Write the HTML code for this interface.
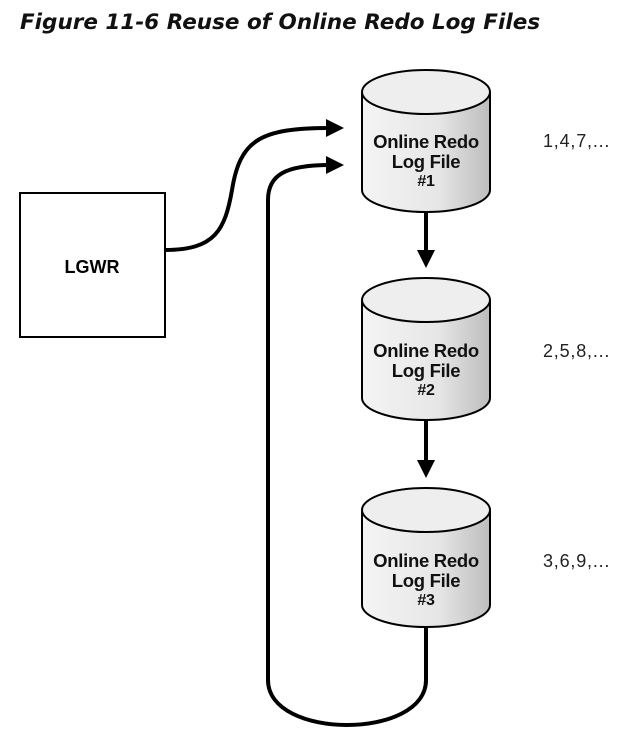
<!DOCTYPE html>
<html><head><style>
body{margin:0;background:#fff;width:634px;height:742px;overflow:hidden;}
.t{position:absolute;left:20px;top:10px;font:italic bold 21.5px "DejaVu Sans","Liberation Sans",sans-serif;color:#111;}
</style></head><body>
<div class="t">Figure 11-6 Reuse of Online Redo Log Files</div>
<svg width="634" height="742" style="position:absolute;left:0;top:0" font-family="Liberation Sans, sans-serif">
<defs>
<linearGradient id="g" x1="0" x2="1"><stop offset="0" stop-color="#f4f4f4"/><stop offset="0.6" stop-color="#e6e6e6"/><stop offset="1" stop-color="#bdbdbd"/></linearGradient>
<marker id="a" markerWidth="18" markerHeight="18" refX="4" refY="9" orient="auto" markerUnits="userSpaceOnUse" viewBox="0 0 18 18"><path d="M0,0 L18,9 L0,18z" fill="#000"/></marker>
</defs>
<rect x="20" y="193" width="145" height="144" fill="#fff" stroke="#000" stroke-width="2"/>
<text x="92" y="273" font-size="18" font-weight="bold" text-anchor="middle">LGWR</text>
<g stroke="#000" stroke-width="2">
<path d="M362,92 V190 A64,22 0 0 0 490,190 V92" fill="url(#g)"/>
<ellipse cx="426" cy="92" rx="64" ry="22" fill="#eee"/>
<path d="M362,300 V398 A64,22 0 0 0 490,398 V300" fill="url(#g)"/>
<ellipse cx="426" cy="300" rx="64" ry="22" fill="#eee"/>
<path d="M362,510 V605 A64,22 0 0 0 490,605 V510" fill="url(#g)"/>
<ellipse cx="426" cy="510" rx="64" ry="22" fill="#eee"/>
</g>
<g font-size="18.5" font-weight="bold" text-anchor="middle" fill="#111" letter-spacing="-0.3">
<text x="426" y="148">Online Redo</text><text x="426" y="168">Log File</text><text x="426" y="186" font-size="16">#1</text>
<text x="426" y="357">Online Redo</text><text x="426" y="377">Log File</text><text x="426" y="395" font-size="16">#2</text>
<text x="426" y="567">Online Redo</text><text x="426" y="587">Log File</text><text x="426" y="605" font-size="16">#3</text>
</g>
<g font-size="18" fill="#222" letter-spacing="0.8">
<text x="543" y="147">1,4,7,...</text>
<text x="543" y="357">2,5,8,...</text>
<text x="543" y="567">3,6,9,...</text>
</g>
<g stroke="#000" stroke-width="4" fill="none">
<path d="M165,250 C215,250 225,230 232,190 C240,140 260,128 330,128" marker-end="url(#a)"/>
<path d="M426,627 V680 C426,740 268,740 268,680 V200 C268,175 285,165 330,165" marker-end="url(#a)"/>
<path d="M426,213 V254" marker-end="url(#a)"/>
<path d="M426,421 V464" marker-end="url(#a)"/>
</g>
</svg>
</body></html>
